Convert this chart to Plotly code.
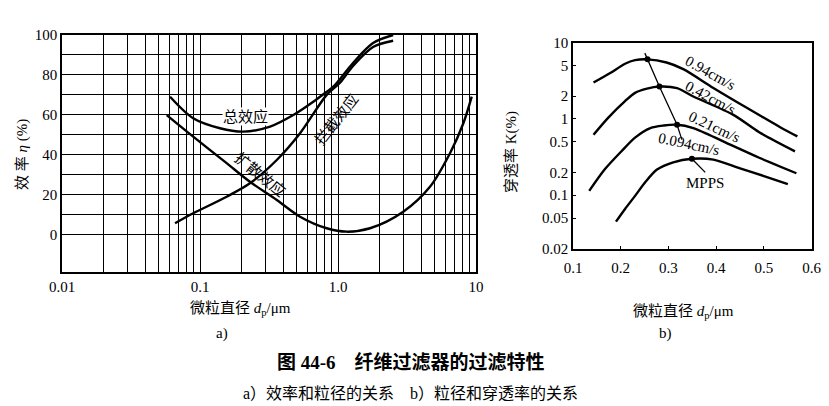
import math
import plotly.graph_objects as go

W, H = 829, 406

# ---- panel a): efficiency vs particle diameter (log x) ----
dp_total = [0.0607, 0.0893, 0.1396, 0.206, 0.322, 0.474, 0.662, 0.828, 0.925, 1.285, 1.795, 2.51]
eta_total = [69.1, 58.3, 53.3, 51.6, 54.1, 59.9, 66.6, 71.6, 74.1, 86.0, 96.0, 100.0]

dp_intercept = [0.0659, 0.0893, 0.156, 0.230, 0.360, 0.531, 0.828, 1.03, 1.285, 1.795, 2.51]
eta_intercept = [5.7, 10.7, 19.0, 25.7, 37.4, 50.8, 70.0, 76.0, 84.5, 94.0, 97.1]

dp_diffusion = [0.0574, 0.0893, 0.156, 0.230, 0.360, 0.531, 0.828, 1.156, 1.706, 2.97, 4.64, 6.48, 8.10, 9.31]
eta_diffusion = [59.9, 49.1, 35.8, 26.5, 17.4, 9.0, 3.2, 1.5, 3.2, 11.5, 24.0, 40.8, 55.8, 69.1]

a_decades = [0.01, 0.1, 1.0]
a_decade_text = ["0.01", "0.1", "1.0"]
a_multiples = [1, 2, 3, 4, 5, 6, 7, 8, 9]
a_last_tick, a_last_text = 10.0, "10"
a_eta_ticks = [0, 10, 20, 30, 40, 50, 60, 70, 80, 90, 100]
a_eta_labels = ["0", "", "20", "", "40", "", "60", "", "80", "", "100"]

# curve labels of panel a): (text, particle diameter, efficiency, rotation)
a_curve_labels = [("总效应", 0.212, 59.0, 0), ("扩散效应", 0.272, 29.9, 39), ("拦截效应", 0.967, 57.9, -52)]

# ---- panel b): penetration vs particle diameter at four filtration velocities ----
velocity_labels = ["0.94cm/s", "0.42cm/s", "0.21cm/s", "0.094cm/s"]
dp_094cm = [0.143, 0.178, 0.209, 0.230, 0.256, 0.296, 0.331, 0.394, 0.464, 0.534, 0.570]
k_094cm = [3.0, 4.0, 5.3, 5.9, 6.05, 5.5, 4.5, 2.55, 1.4, 0.78, 0.59]
dp_042cm = [0.143, 0.174, 0.209, 0.230, 0.255, 0.281, 0.318, 0.352, 0.436, 0.49, 0.565]
k_042cm = [0.62, 1.04, 1.71, 2.2, 2.5, 2.66, 2.54, 1.97, 1.13, 0.67, 0.376]
dp_021cm = [0.134, 0.167, 0.202, 0.230, 0.262, 0.29, 0.318, 0.352, 0.42, 0.49, 0.568]
k_021cm = [0.114, 0.22, 0.38, 0.57, 0.76, 0.82, 0.84, 0.76, 0.49, 0.31, 0.194]
dp_0094cm = [0.19, 0.209, 0.23, 0.252, 0.276, 0.31, 0.349, 0.394, 0.45, 0.5, 0.55]
k_0094cm = [0.045, 0.066, 0.098, 0.15, 0.217, 0.27, 0.30, 0.293, 0.225, 0.178, 0.14]

# most penetrating particle size on each curve
mpps_dp = [0.256, 0.281, 0.318, 0.349]
mpps_k = [6.05, 2.66, 0.84, 0.30]
mpps_line_dp = [0.2505, 0.256, 0.281, 0.318, 0.328]
mpps_line_k = [7.3, 6.05, 2.66, 0.84, 0.535]
mpps_pointer_dp = [0.349, 0.377]
mpps_pointer_k = [0.30, 0.199]

b_dp_ticks = [0.1, 0.2, 0.3, 0.4, 0.5, 0.6]
b_dp_labels = ["0.1", "0.2", "0.3", "0.4", "0.5", "0.6"]
b_k_ticks = [0.02, 0.05, 0.1, 0.2, 0.5, 1, 2, 5, 10]
b_k_labels = ["0.02", "0.05", "0.1", "0.2", "0.5", "1", "2", "5", "10"]

SERIF = "Liberation Serif, Noto Sans CJK SC, serif"
CJK = "Liberation Serif, Noto Sans CJK SC, sans-serif"

# log grid: every integer multiple inside each decade, labels only on decades
a_xticks, a_xtext = [], []
for d, dtxt in zip(a_decades, a_decade_text):
    for m in a_multiples:
        a_xticks.append(m * d)
        a_xtext.append(dtxt if m == 1 else "")
a_xticks.append(a_last_tick)
a_xtext.append(a_last_text)

fig = go.Figure()

line_a = dict(color="black", width=2.4, shape="spline", smoothing=0.9)
for xs, ys in [(dp_total, eta_total), (dp_intercept, eta_intercept), (dp_diffusion, eta_diffusion)]:
    fig.add_trace(go.Scatter(x=xs, y=ys, mode="lines", line=line_a,
                             xaxis="x", yaxis="y", showlegend=False))

line_b = dict(color="black", width=2.4, shape="spline", smoothing=0.8)
for xs, ks in [(dp_094cm, k_094cm), (dp_042cm, k_042cm), (dp_021cm, k_021cm), (dp_0094cm, k_0094cm)]:
    fig.add_trace(go.Scatter(x=xs, y=ks, mode="lines", line=line_b,
                             xaxis="x2", yaxis="y2", showlegend=False))
fig.add_trace(go.Scatter(x=mpps_line_dp, y=mpps_line_k, mode="lines",
                         line=dict(color="black", width=1.3),
                         xaxis="x2", yaxis="y2", showlegend=False))
fig.add_trace(go.Scatter(x=mpps_pointer_dp, y=mpps_pointer_k, mode="lines",
                         line=dict(color="black", width=1.3),
                         xaxis="x2", yaxis="y2", showlegend=False))
fig.add_trace(go.Scatter(x=mpps_dp, y=mpps_k, mode="markers",
                         marker=dict(color="black", size=6),
                         xaxis="x2", yaxis="y2", showlegend=False))


def px_x(p):
    return p / W


def px_y(p):
    return 1 - p / H


def txt(size, family=CJK):
    return dict(family=family, size=size, color="black")


CENTER = dict(xanchor="center", yanchor="middle", showarrow=False)

ann = []
# panel a) curve labels (annotation x on a log axis is given as log10)
for lab, lx, ly, ang in a_curve_labels:
    extra = dict(bgcolor="white", borderpad=0) if ang == 0 else {}
    ann.append(dict(x=math.log10(lx), y=ly, xref="x", yref="y", text=lab,
                    textangle=ang, font=txt(15), **CENTER, **extra))

# panel b) velocity labels
b_label_pos = [(0.388, 3.98, 29), (0.389, 1.87, 28), (0.396, 0.78, 25), (0.343, 0.474, 12)]
for lab, (lx, lk, ang) in zip(velocity_labels, b_label_pos):
    ann.append(dict(x=lx, y=math.log10(lk), xref="x2", yref="y2", text=lab,
                    textangle=ang, font=txt(15, SERIF), **CENTER))
ann.append(dict(x=0.377, y=math.log10(0.145), xref="x2", yref="y2", text="MPPS",
                font=txt(15, SERIF), **CENTER))

# axis titles, panel tags and caption
ann.append(dict(x=px_x(23), y=px_y(155), xref="paper", yref="paper",
                text="效 率 <i>η</i> (%)", textangle=-90, font=txt(15), **CENTER))
ann.append(dict(x=px_x(240), y=px_y(309), xref="paper", yref="paper",
                text="微粒直径 <i>d</i><sub>p</sub>/μm", font=txt(15), **CENTER))
ann.append(dict(x=px_x(511), y=px_y(152), xref="paper", yref="paper",
                text="穿透率 K(%)", textangle=-90, font=txt(15), **CENTER))
ann.append(dict(x=px_x(683), y=px_y(312), xref="paper", yref="paper",
                text="微粒直径 <i>d</i><sub>p</sub>/μm", font=txt(15), **CENTER))
ann.append(dict(x=px_x(222), y=px_y(333), xref="paper", yref="paper", text="a)",
                font=txt(15, SERIF), **CENTER))
ann.append(dict(x=px_x(665), y=px_y(333), xref="paper", yref="paper", text="b)",
                font=txt(15, SERIF), **CENTER))
ann.append(dict(x=px_x(411), y=px_y(362), xref="paper", yref="paper",
                text="<b>图 44-6　纤维过滤器的过滤特性</b>", font=txt(19), **CENTER))
ann.append(dict(x=px_x(410), y=px_y(393), xref="paper", yref="paper",
                text="a）效率和粒径的关系　b）粒径和穿透率的关系", font=txt(16), **CENTER))

axis_common = dict(showline=True, linecolor="black", linewidth=1.5, mirror=True,
                   zeroline=False, automargin=False, tickangle=0, tickfont=txt(15, SERIF))

fig.update_layout(
    width=W, height=H,
    margin=dict(l=0, r=0, t=0, b=0, pad=0, autoexpand=False),
    paper_bgcolor="white", plot_bgcolor="white",
    showlegend=False,
    annotations=ann,
    xaxis=dict(type="log", range=[-2, 1], domain=[px_x(62), px_x(476)],
               tickmode="array", tickvals=a_xticks, ticktext=a_xtext,
               showgrid=True, gridcolor="black", gridwidth=1, ticks="",
               anchor="y", **axis_common),
    yaxis=dict(range=[-18.7, 100], domain=[px_y(272), px_y(35)],
               tickmode="array", tickvals=a_eta_ticks, ticktext=a_eta_labels,
               showgrid=True, gridcolor="black", gridwidth=1, ticks="",
               anchor="x", **axis_common),
    xaxis2=dict(range=[0.1, 0.6], domain=[px_x(573), px_x(811.7)],
                tickmode="array", tickvals=b_dp_ticks, ticktext=b_dp_labels,
                showgrid=False, ticks="inside", ticklen=3, tickcolor="black",
                ticklabelstandoff=5, anchor="y2", **axis_common),
    yaxis2=dict(type="log", range=[math.log10(0.02), 1],
                domain=[px_y(248.5), px_y(42.7)],
                tickmode="array", tickvals=b_k_ticks, ticktext=b_k_labels,
                showgrid=False, ticks="inside", ticklen=3, tickcolor="black",
                anchor="x2", **axis_common),
)

fig.write_html("out.html")
